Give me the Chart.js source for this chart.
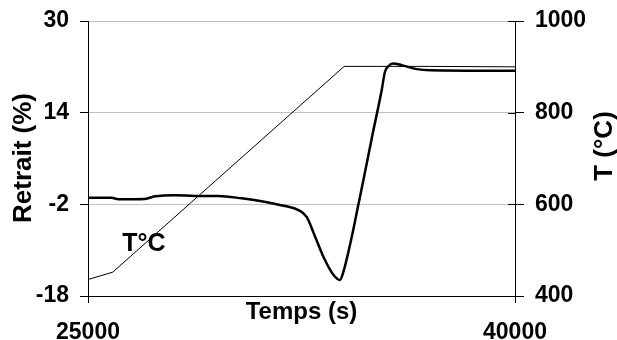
<!DOCTYPE html>
<html>
<head>
<meta charset="utf-8">
<script src="https://cdn.jsdelivr.net/npm/chart.js@4/dist/chart.umd.min.js"></script>
<style>
html,body{margin:0;padding:0;background:#fff;}
canvas{display:block;}
</style>
</head>
<body>
<canvas id="c" width="617" height="340"></canvas>
<script>
// ---- Data ----
const retraitTime = [25000, 25830, 26060, 27000, 27350, 28060, 28760, 29580, 30400, 31100, 31920, 32390, 32680, 32975, 33265, 33620, 33850, 33970, 34260, 34500, 34730, 35000, 35320, 35430, 35550, 35720, 36020, 36550, 37010, 40000];
const retraitValues = [-0.85, -0.85, -1.1, -1.05, -0.6, -0.4, -0.55, -0.55, -0.95, -1.45, -2.3, -3.0, -4.2, -7.6, -11.1, -14.3, -15.2, -13.8, -7.8, -2.0, 3.6, 10.3, 18.0, 21.1, 22.1, 22.6, 22.3, 21.6, 21.4, 21.3];
const tempTime = [25000, 25870, 34000, 37000, 40000];
const tempValues = [436, 452, 901, 901, 900];
const leftTicks = [-18, -2, 14, 30];
const rightTicks = [400, 600, 800, 1000];
const xTicks = [25000, 40000];

const FONT = '"Liberation Sans", Arial, sans-serif';

const toXY = (xs, ys) => xs.map((x, i) => ({x: x, y: ys[i]}));

const titlesPlugin = {
  id: 'titles',
  afterDraw(chart) {
    const ctx = chart.ctx;
    const ca = chart.chartArea;
    const yR = chart.scales.yR;
    ctx.save();
    // inner part of right-axis tick marks
    ctx.strokeStyle = '#000';
    ctx.lineWidth = 1;
    rightTicks.forEach(v => {
      const y = Math.round(yR.getPixelForValue(v)) + 0.5;
      ctx.beginPath();
      ctx.moveTo(ca.right - 7, y);
      ctx.lineTo(ca.right, y);
      ctx.stroke();
    });
    ctx.fillStyle = '#000';
    ctx.textAlign = 'center';
    ctx.textBaseline = 'middle';
    // left title
    ctx.save();
    ctx.translate(24, 158);
    ctx.rotate(-Math.PI / 2);
    ctx.font = 'bold 26px ' + FONT;
    ctx.fillText('Retrait (%)', 0, 0);
    ctx.restore();
    // right title
    ctx.save();
    ctx.translate(605, 146);
    ctx.rotate(-Math.PI / 2);
    ctx.font = 'bold 26px ' + FONT;
    ctx.fillText('T (°C)', 0, 0);
    ctx.restore();
    // x title
    ctx.font = 'bold 24px ' + FONT;
    ctx.fillText('Temps (s)', (ca.left + ca.right) / 2, 312);
    // series label
    ctx.font = 'bold 25px ' + FONT;
    ctx.fillText('T°C', 144, 244);
    ctx.restore();
  }
};

const fixY = (w) => (s) => { s.width = w; s.paddingTop = 0; s.paddingBottom = 0; };

new Chart(document.getElementById('c'), {
  type: 'line',
  data: {
    datasets: [
      {
        label: 'Retrait',
        data: toXY(retraitTime, retraitValues),
        yAxisID: 'yL',
        borderColor: '#000',
        borderWidth: 2.5,
        pointRadius: 0,
        cubicInterpolationMode: 'monotone',
        fill: false
      },
      {
        label: 'T°C',
        data: toXY(tempTime, tempValues),
        yAxisID: 'yR',
        borderColor: '#000',
        borderWidth: 1,
        pointRadius: 0,
        tension: 0,
        fill: false
      }
    ]
  },
  options: {
    responsive: false,
    animation: false,
    devicePixelRatio: 1,
    layout: { padding: { top: 21, left: 0, right: 0, bottom: 0 } },
    plugins: { legend: { display: false }, tooltip: { enabled: false } },
    scales: {
      x: {
        type: 'linear',
        position: 'bottom',
        min: 25000,
        max: 40000,
        afterBuildTicks: (s) => { s.ticks = xTicks.map(v => ({value: v})); },
        afterFit: (s) => { s.height = 44; s.paddingLeft = 0; s.paddingRight = 0; },
        ticks: {
          color: '#000',
          font: { family: FONT, size: 23, weight: 'bold' },
          padding: 16,
          maxRotation: 0,
          autoSkip: false,
          callback: (v) => String(v)
        },
        grid: { color: 'rgba(0,0,0,0)', tickColor: '#000', tickLength: 7, drawTicks: true },
        border: { display: true, color: '#000', width: 1 }
      },
      yL: {
        type: 'linear',
        position: 'left',
        min: -18,
        max: 30,
        afterBuildTicks: (s) => { s.ticks = leftTicks.map(v => ({value: v})); },
        afterFit: fixY(88),
        ticks: {
          color: '#000',
          font: { family: FONT, size: 23, weight: 'bold' },
          padding: 11,
          callback: (v) => String(v)
        },
        grid: {
          color: (c) => (c.tick && c.tick.value === -18) ? 'rgba(0,0,0,0)' : '#c0c0c0',
          tickColor: '#000',
          tickLength: 8
        },
        border: { display: true, color: '#000', width: 1 }
      },
      yR: {
        type: 'linear',
        position: 'right',
        min: 400,
        max: 1000,
        afterBuildTicks: (s) => { s.ticks = rightTicks.map(v => ({value: v})); },
        afterFit: fixY(102),
        ticks: {
          color: '#000',
          font: { family: FONT, size: 23, weight: 'bold' },
          padding: 11,
          callback: (v) => String(v)
        },
        grid: { color: 'rgba(0,0,0,0)', tickColor: '#000', tickLength: 9 },
        border: { display: true, color: '#000', width: 1 }
      }
    }
  },
  plugins: [titlesPlugin]
});
</script>
</body>
</html>
